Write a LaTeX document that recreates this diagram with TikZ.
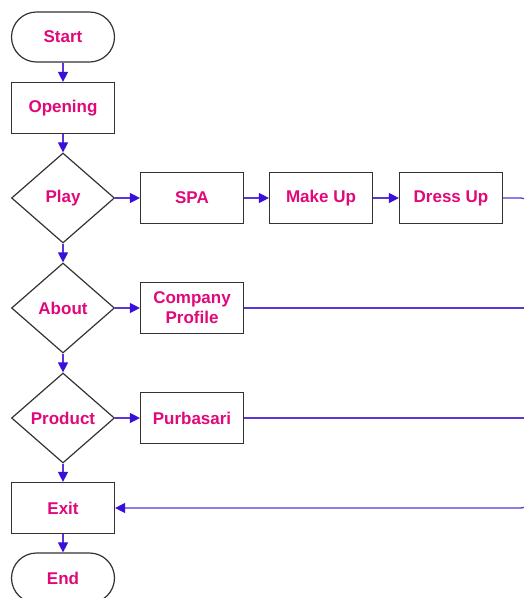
\documentclass[tikz,border=0pt]{standalone}
\usepackage{fontspec}
\setmainfont{Liberation Sans}
\usetikzlibrary{positioning,shapes.geometric,arrows.meta}
\definecolor{labelpink}{HTML}{E0087A}
\definecolor{flowblue}{HTML}{3A10D8}
\definecolor{flowline}{HTML}{5A35D8}
\definecolor{boxgray}{HTML}{333333}
\tikzset{edge/.style = {->,> = {Triangle[length=10pt,width=10pt,color=flowblue]},draw=flowline,line width=1.3pt}}

\begin{document}
\begin{tikzpicture}[x=1pt,y=-1pt,node distance=110pt,
        every node/.style={font=\bfseries\fontsize{17}{20}\selectfont,text=labelpink,draw=boxgray,line width=1.2pt,fill=white,align=center},
        box/.style={rectangle,minimum width=103pt,minimum height=51pt,inner sep=2pt},
        term/.style={box,rounded corners=25pt,minimum height=50pt},
        choice/.style={diamond,aspect=1.15,minimum width=103pt,minimum height=90pt,inner sep=0pt}]
                \useasboundingbox (0,0) rectangle (524,598);
                \clip (0,0) rectangle (524,598);
                \node[term] (start) at (63,37) {Start};
                \node[box] (opening) [below of=start, node distance=71pt] {Opening};
                \node[choice] (play) [below of=opening, node distance=90pt] {Play};
                \node[choice] (about) [below of=play] {About};
                \node[choice] (product) [below of=about] {Product};
                \node[box] (exit) [below of=product, node distance=90pt] {Exit};
                \node[term] (end) [below of=exit, node distance=70pt] {End};

                \node[box] (spa) [right of=play, node distance=129pt] {SPA};
                \node[box] (makeup) [right of=spa, node distance=129pt] {Make Up};
                \node[box] (dressup) [right of=makeup, node distance=130pt] {Dress Up};
                \node[box] (profile) [right of=about, node distance=129pt] {Company\\Profile};
                \node[box] (purbasari) [right of=product, node distance=129pt] {Purbasari};
                \coordinate (rail) at (531,0);

                \path[edge] (start) edge (opening);
                \path[edge] (opening) edge (play);
                \path[edge] (play) edge (about);
                \path[edge] (about) edge (product);
                \path[edge] (product) edge (exit);
                \path[edge] (exit) edge (end);
                \path[edge] (play) edge (spa);
                \path[edge] (spa) edge (makeup);
                \path[edge] (makeup) edge (dressup);
                \path[edge] (about) edge (profile);
                \path[edge] (product) edge (purbasari);

                \draw[edge,rounded corners=10pt] (dressup.east) -- (dressup.east -| rail) -- (exit.east -| rail) -- (exit.east);
                \draw[edge,-] (profile.east) -- (profile.east -| rail);
                \draw[edge,-] (purbasari.east) -- (purbasari.east -| rail);
            \end{tikzpicture}
\end{document}
